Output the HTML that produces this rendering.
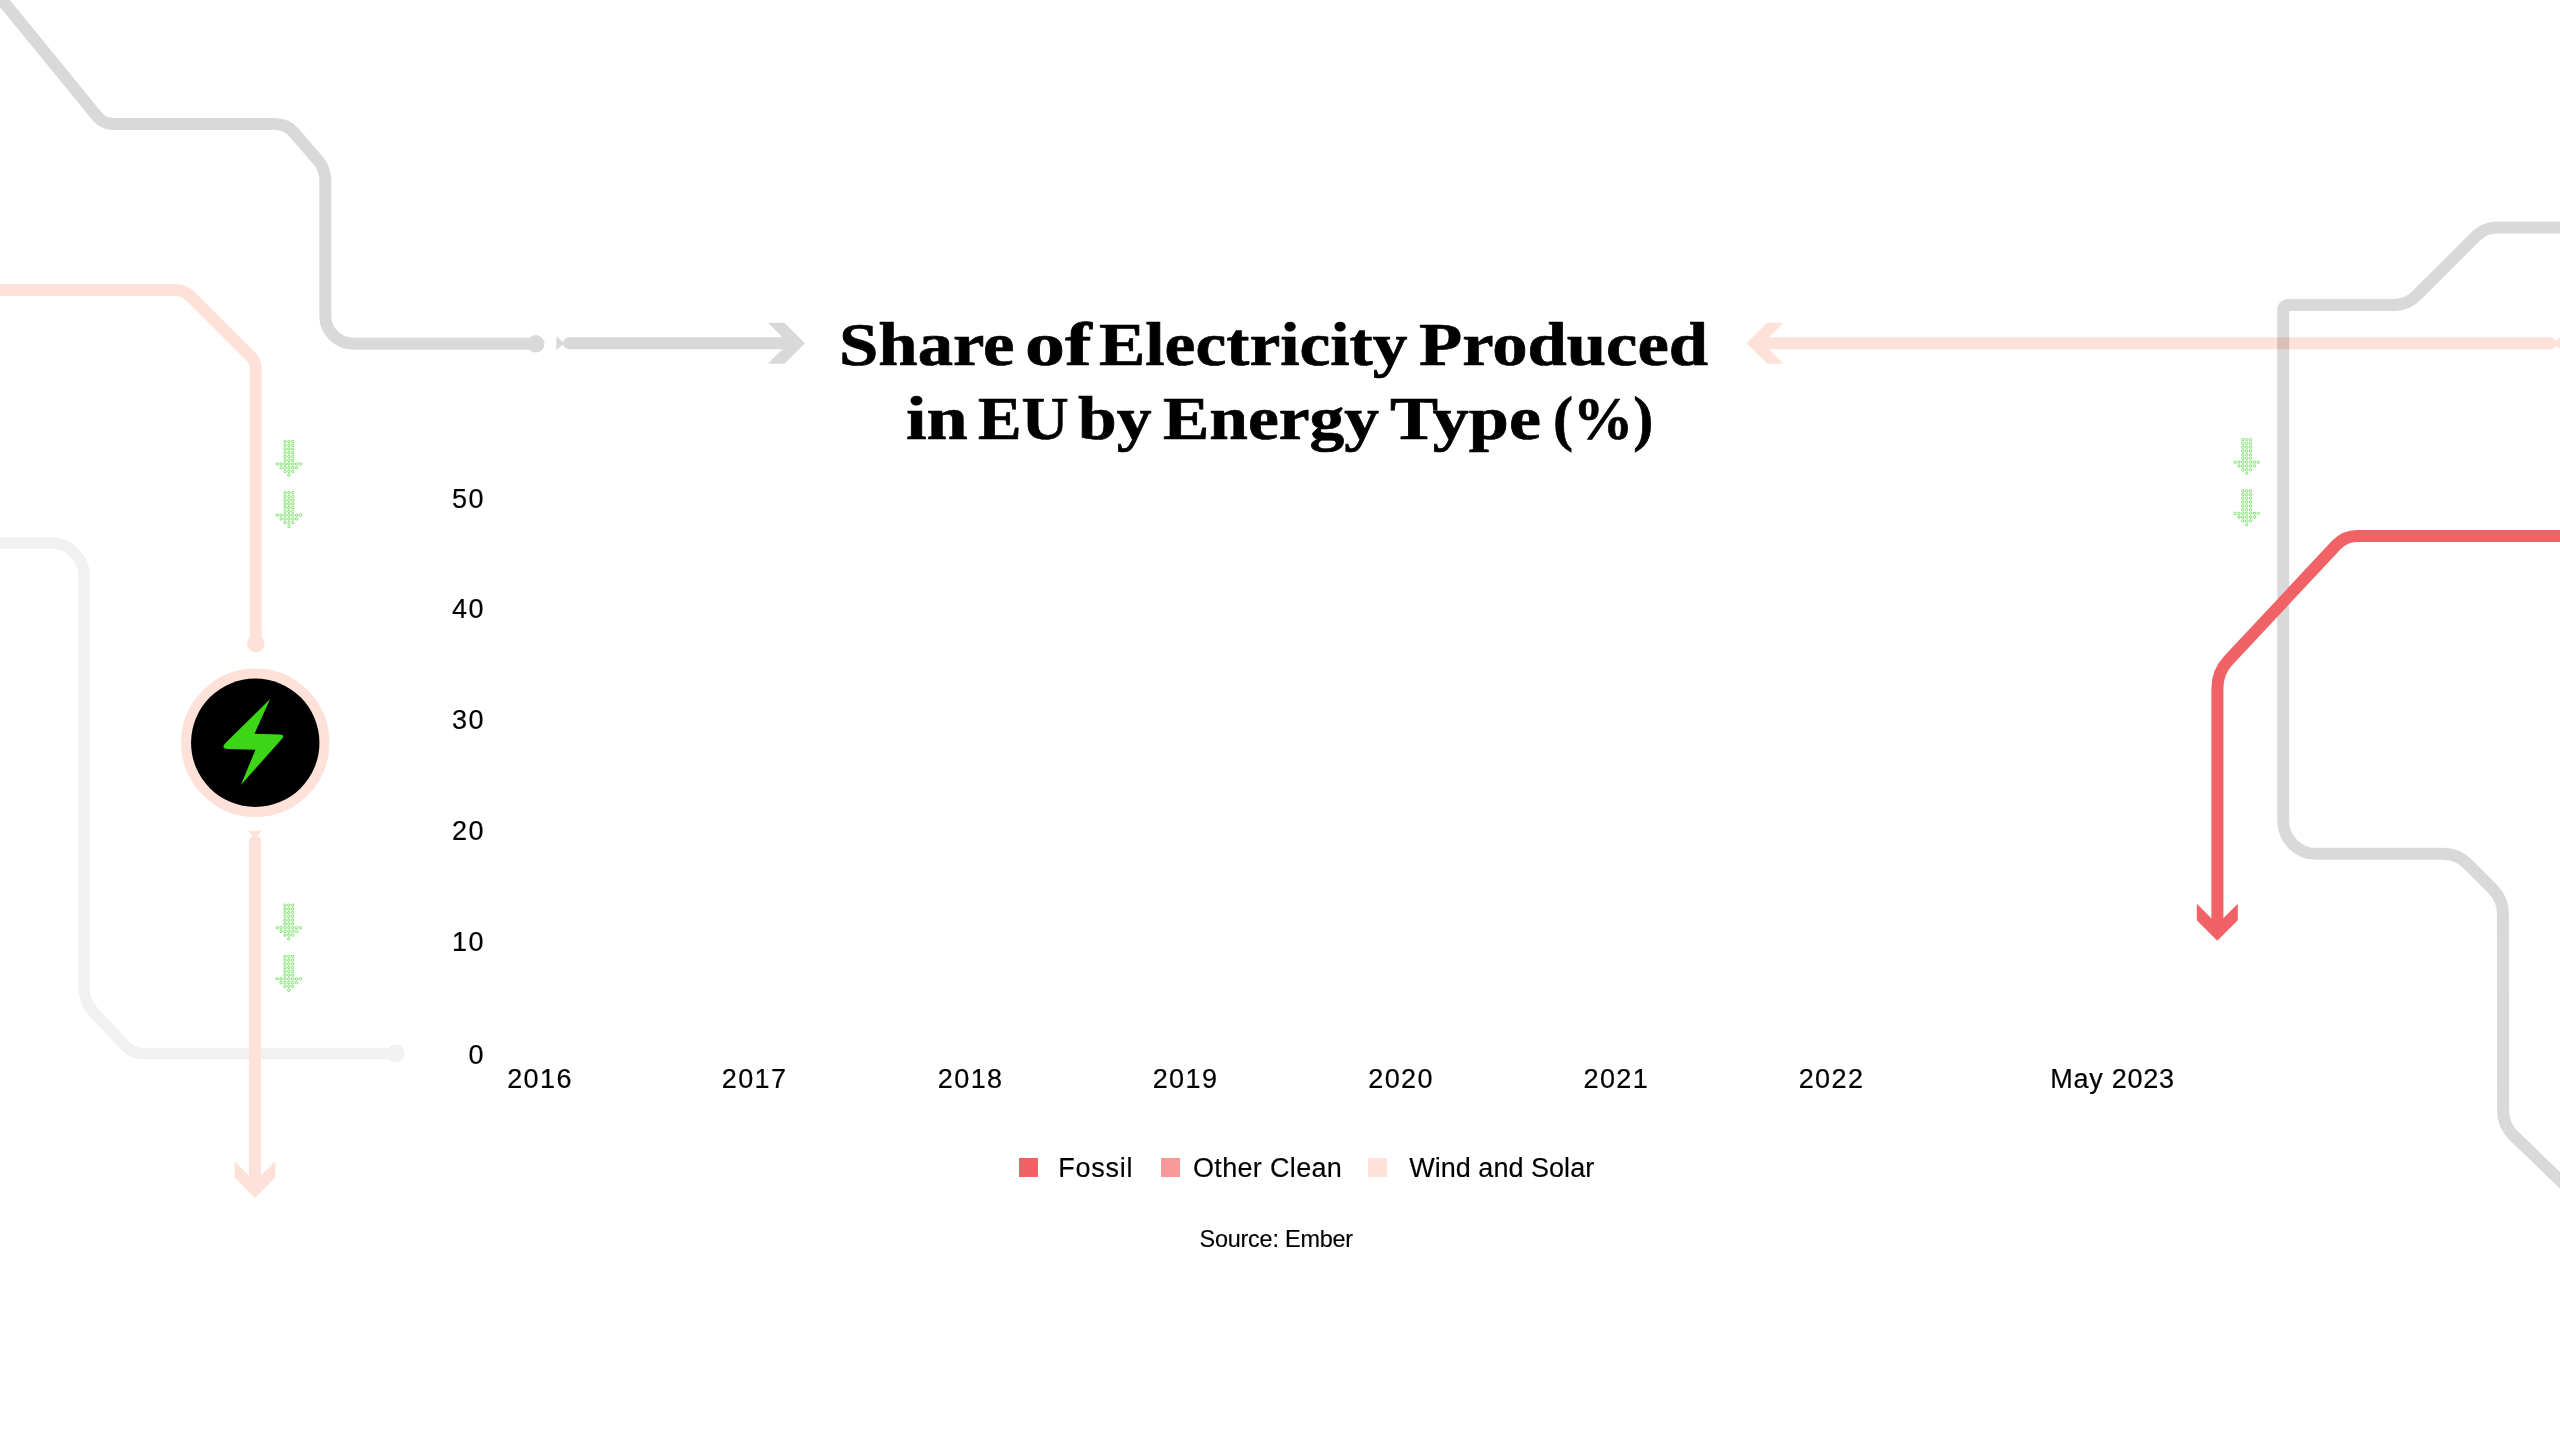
<!DOCTYPE html>
<html lang="en">
<head>
<meta charset="utf-8">
<title>Share of Electricity Produced in EU by Energy Type (%)</title>
<style>
html,body{margin:0;padding:0;background:#fff;}
body{width:2560px;height:1440px;position:relative;overflow:hidden;font-family:"Liberation Sans",sans-serif;color:#000;}
h1{margin:0;padding:0;font-size:inherit;font-weight:inherit;}
.t{position:absolute;white-space:nowrap;line-height:1;}
.title{font-family:"Liberation Serif",serif;font-weight:700;font-size:62px;transform-origin:0 0;-webkit-text-stroke:0.7px #000;}
.ax{font-size:27px;letter-spacing:1.4px;-webkit-text-stroke:0.2px #000;}
.lg{font-size:27px;-webkit-text-stroke:0.15px #000;}
.src{font-size:23.4px;-webkit-text-stroke:0.15px #000;}
.sq{position:absolute;width:19px;height:19px;top:1158.2px;}
</style>
</head>
<body>
<svg width="2560" height="1440" viewBox="0 0 2560 1440" style="position:absolute;left:0;top:0">
<g fill="none" stroke="#f1f1f1" stroke-width="11.5">
<path d="M-20,543 L51.1,543 A33,33 0 0 1 84.1,576 L84.1,987.68 A36,36 0 0 0 93.82,1012.28 L125.78,1046.43 A22,22 0 0 0 141.84,1053.4 L395.5,1053.4"/>
<circle cx="395.5" cy="1053.4" r="9" fill="#f1f1f1" stroke="none"/>
</g>
<g fill="none" stroke="#fee2da" stroke-width="12">
<path d="M-20,290 L175.09,290 A22,22 0 0 1 190.64,296.44 L250.72,356.52 A17,17 0 0 1 255.7,368.54 L255.7,644"/>
<circle cx="255.8" cy="643.6" r="8.8" fill="#fee2da" stroke="none"/>
<circle cx="255.25" cy="742.75" r="69" stroke-width="10.5"/>
<polygon points="248,830.8 262,830.8 255,838.5" fill="#fee2da" stroke="none"/>
<path d="M255,841.3 L255,1186" stroke-linecap="round"/>
<polygon points="234.5,1160.9 234.5,1177.5 255,1198 275.5,1177.5 275.5,1160.9 255,1181.4" fill="#fee2da" stroke="none"/>
<polygon points="2561,336.4 2561,350 2553.5,343.2" fill="#fee2da" stroke="none"/>
<path d="M2550.5,343.2 L1764,343.2" stroke-linecap="round"/>
<polygon points="1783.6,322.8 1767,322.8 1746.5,343.3 1767,363.8 1783.6,363.8 1763.1,343.3" fill="#fee2da" stroke="none"/>
</g>
<g fill="none" stroke="#d9d9d9" stroke-width="12" style="mix-blend-mode:multiply">
<path d="M-14.2,-20 L97.2,116.54 A20,20 0 0 0 112.69,123.9 L274.75,123.9 A26,26 0 0 1 294.48,132.97 L318.07,160.47 A30,30 0 0 1 325.3,180 L325.3,315.8 A28,28 0 0 0 353.3,343.8 L535.8,343.8"/>
<circle cx="535.8" cy="343.8" r="8.7" fill="#d9d9d9" stroke="none"/>
<polygon points="556.3,336.3 556.3,350.3 564.5,343.3" fill="#d9d9d9" stroke="none"/>
<path d="M569,343.3 L789,343.3" stroke-linecap="round"/>
<polygon points="767.9,322.8 784.5,322.8 805,343.3 784.5,363.8 767.9,363.8 788.4,343.3" fill="#d9d9d9" stroke="none"/>
<path d="M2580,227.5 L2497.03,227.5 A30,30 0 0 0 2475.81,236.29 L2415.99,296.11 A30,30 0 0 1 2394.77,304.9 L2288.2,304.9 A5,5 0 0 0 2283.2,309.9 L2283.2,820.85 A33,33 0 0 0 2316.2,853.85 L2443.01,853.85 A35,35 0 0 1 2467.75,864.09 L2492.65,888.96 A35,35 0 0 1 2502.91,913.69 L2503.09,1110.48 A35,35 0 0 0 2513.75,1135.6 L2580,1199.7"/>
</g>
<g fill="none" stroke="#f06265" stroke-width="12">
<path d="M2580,535.9 L2357.39,535.9 A29,29 0 0 0 2336.2,545.1 L2228.18,660.67 A40,40 0 0 0 2217.4,687.98 L2217.4,926"/>
<polygon points="2196.8,903.7 2196.8,920.3 2217.3,940.8 2237.8,920.3 2237.8,903.7 2217.3,924.2" fill="#f06265" stroke="none"/>
</g>
<circle cx="255.25" cy="742.75" r="64.2" fill="#000"/>
<path d="M270.1,699 L226,742.5 Q219.9,748.6 227.9,748.9 L255.5,749.7 L240.9,784.9 L281.8,739 Q285.6,734.7 279.8,734.5 L254.5,733.7 Z" fill="#3dd616"/>
<g fill="none" stroke="#62dd4e" stroke-width="0.8">
<circle cx="285.03" cy="441.5" r="1.25"/><circle cx="288.9" cy="441.5" r="1.25"/><circle cx="292.77" cy="441.5" r="1.25"/><circle cx="285.03" cy="445.25" r="1.25"/><circle cx="288.9" cy="445.25" r="1.25"/><circle cx="292.77" cy="445.25" r="1.25"/><circle cx="285.03" cy="448.99" r="1.25"/><circle cx="288.9" cy="448.99" r="1.25"/><circle cx="292.77" cy="448.99" r="1.25"/><circle cx="285.03" cy="452.74" r="1.25"/><circle cx="288.9" cy="452.74" r="1.25"/><circle cx="292.77" cy="452.74" r="1.25"/><circle cx="285.03" cy="456.48" r="1.25"/><circle cx="288.9" cy="456.48" r="1.25"/><circle cx="292.77" cy="456.48" r="1.25"/><circle cx="285.03" cy="460.23" r="1.25"/><circle cx="288.9" cy="460.23" r="1.25"/><circle cx="292.77" cy="460.23" r="1.25"/><circle cx="277.29" cy="463.97" r="1.25"/><circle cx="281.16" cy="463.97" r="1.25"/><circle cx="285.03" cy="463.97" r="1.25"/><circle cx="288.9" cy="463.97" r="1.25"/><circle cx="292.77" cy="463.97" r="1.25"/><circle cx="296.64" cy="463.97" r="1.25"/><circle cx="300.51" cy="463.97" r="1.25"/><circle cx="281.16" cy="467.71" r="1.25"/><circle cx="285.03" cy="467.71" r="1.25"/><circle cx="288.9" cy="467.71" r="1.25"/><circle cx="292.77" cy="467.71" r="1.25"/><circle cx="296.64" cy="467.71" r="1.25"/><circle cx="285.03" cy="471.46" r="1.25"/><circle cx="288.9" cy="471.46" r="1.25"/><circle cx="292.77" cy="471.46" r="1.25"/><circle cx="288.9" cy="475.2" r="1.25"/>
<circle cx="285.03" cy="492.7" r="1.25"/><circle cx="288.9" cy="492.7" r="1.25"/><circle cx="292.77" cy="492.7" r="1.25"/><circle cx="285.03" cy="496.44" r="1.25"/><circle cx="288.9" cy="496.44" r="1.25"/><circle cx="292.77" cy="496.44" r="1.25"/><circle cx="285.03" cy="500.19" r="1.25"/><circle cx="288.9" cy="500.19" r="1.25"/><circle cx="292.77" cy="500.19" r="1.25"/><circle cx="285.03" cy="503.94" r="1.25"/><circle cx="288.9" cy="503.94" r="1.25"/><circle cx="292.77" cy="503.94" r="1.25"/><circle cx="285.03" cy="507.68" r="1.25"/><circle cx="288.9" cy="507.68" r="1.25"/><circle cx="292.77" cy="507.68" r="1.25"/><circle cx="285.03" cy="511.43" r="1.25"/><circle cx="288.9" cy="511.43" r="1.25"/><circle cx="292.77" cy="511.43" r="1.25"/><circle cx="277.29" cy="515.17" r="1.25"/><circle cx="281.16" cy="515.17" r="1.25"/><circle cx="285.03" cy="515.17" r="1.25"/><circle cx="288.9" cy="515.17" r="1.25"/><circle cx="292.77" cy="515.17" r="1.25"/><circle cx="296.64" cy="515.17" r="1.25"/><circle cx="300.51" cy="515.17" r="1.25"/><circle cx="281.16" cy="518.91" r="1.25"/><circle cx="285.03" cy="518.91" r="1.25"/><circle cx="288.9" cy="518.91" r="1.25"/><circle cx="292.77" cy="518.91" r="1.25"/><circle cx="296.64" cy="518.91" r="1.25"/><circle cx="285.03" cy="522.66" r="1.25"/><circle cx="288.9" cy="522.66" r="1.25"/><circle cx="292.77" cy="522.66" r="1.25"/><circle cx="288.9" cy="526.4" r="1.25"/>
<circle cx="284.93" cy="905.2" r="1.25"/><circle cx="288.8" cy="905.2" r="1.25"/><circle cx="292.67" cy="905.2" r="1.25"/><circle cx="284.93" cy="908.95" r="1.25"/><circle cx="288.8" cy="908.95" r="1.25"/><circle cx="292.67" cy="908.95" r="1.25"/><circle cx="284.93" cy="912.69" r="1.25"/><circle cx="288.8" cy="912.69" r="1.25"/><circle cx="292.67" cy="912.69" r="1.25"/><circle cx="284.93" cy="916.44" r="1.25"/><circle cx="288.8" cy="916.44" r="1.25"/><circle cx="292.67" cy="916.44" r="1.25"/><circle cx="284.93" cy="920.18" r="1.25"/><circle cx="288.8" cy="920.18" r="1.25"/><circle cx="292.67" cy="920.18" r="1.25"/><circle cx="284.93" cy="923.93" r="1.25"/><circle cx="288.8" cy="923.93" r="1.25"/><circle cx="292.67" cy="923.93" r="1.25"/><circle cx="277.19" cy="927.67" r="1.25"/><circle cx="281.06" cy="927.67" r="1.25"/><circle cx="284.93" cy="927.67" r="1.25"/><circle cx="288.8" cy="927.67" r="1.25"/><circle cx="292.67" cy="927.67" r="1.25"/><circle cx="296.54" cy="927.67" r="1.25"/><circle cx="300.41" cy="927.67" r="1.25"/><circle cx="281.06" cy="931.42" r="1.25"/><circle cx="284.93" cy="931.42" r="1.25"/><circle cx="288.8" cy="931.42" r="1.25"/><circle cx="292.67" cy="931.42" r="1.25"/><circle cx="296.54" cy="931.42" r="1.25"/><circle cx="284.93" cy="935.16" r="1.25"/><circle cx="288.8" cy="935.16" r="1.25"/><circle cx="292.67" cy="935.16" r="1.25"/><circle cx="288.8" cy="938.91" r="1.25"/>
<circle cx="284.93" cy="956.4" r="1.25"/><circle cx="288.8" cy="956.4" r="1.25"/><circle cx="292.67" cy="956.4" r="1.25"/><circle cx="284.93" cy="960.14" r="1.25"/><circle cx="288.8" cy="960.14" r="1.25"/><circle cx="292.67" cy="960.14" r="1.25"/><circle cx="284.93" cy="963.89" r="1.25"/><circle cx="288.8" cy="963.89" r="1.25"/><circle cx="292.67" cy="963.89" r="1.25"/><circle cx="284.93" cy="967.63" r="1.25"/><circle cx="288.8" cy="967.63" r="1.25"/><circle cx="292.67" cy="967.63" r="1.25"/><circle cx="284.93" cy="971.38" r="1.25"/><circle cx="288.8" cy="971.38" r="1.25"/><circle cx="292.67" cy="971.38" r="1.25"/><circle cx="284.93" cy="975.12" r="1.25"/><circle cx="288.8" cy="975.12" r="1.25"/><circle cx="292.67" cy="975.12" r="1.25"/><circle cx="277.19" cy="978.87" r="1.25"/><circle cx="281.06" cy="978.87" r="1.25"/><circle cx="284.93" cy="978.87" r="1.25"/><circle cx="288.8" cy="978.87" r="1.25"/><circle cx="292.67" cy="978.87" r="1.25"/><circle cx="296.54" cy="978.87" r="1.25"/><circle cx="300.41" cy="978.87" r="1.25"/><circle cx="281.06" cy="982.62" r="1.25"/><circle cx="284.93" cy="982.62" r="1.25"/><circle cx="288.8" cy="982.62" r="1.25"/><circle cx="292.67" cy="982.62" r="1.25"/><circle cx="296.54" cy="982.62" r="1.25"/><circle cx="284.93" cy="986.36" r="1.25"/><circle cx="288.8" cy="986.36" r="1.25"/><circle cx="292.67" cy="986.36" r="1.25"/><circle cx="288.8" cy="990.11" r="1.25"/>
<circle cx="2242.83" cy="439.7" r="1.25"/><circle cx="2246.7" cy="439.7" r="1.25"/><circle cx="2250.57" cy="439.7" r="1.25"/><circle cx="2242.83" cy="443.44" r="1.25"/><circle cx="2246.7" cy="443.44" r="1.25"/><circle cx="2250.57" cy="443.44" r="1.25"/><circle cx="2242.83" cy="447.19" r="1.25"/><circle cx="2246.7" cy="447.19" r="1.25"/><circle cx="2250.57" cy="447.19" r="1.25"/><circle cx="2242.83" cy="450.94" r="1.25"/><circle cx="2246.7" cy="450.94" r="1.25"/><circle cx="2250.57" cy="450.94" r="1.25"/><circle cx="2242.83" cy="454.68" r="1.25"/><circle cx="2246.7" cy="454.68" r="1.25"/><circle cx="2250.57" cy="454.68" r="1.25"/><circle cx="2242.83" cy="458.43" r="1.25"/><circle cx="2246.7" cy="458.43" r="1.25"/><circle cx="2250.57" cy="458.43" r="1.25"/><circle cx="2235.09" cy="462.17" r="1.25"/><circle cx="2238.96" cy="462.17" r="1.25"/><circle cx="2242.83" cy="462.17" r="1.25"/><circle cx="2246.7" cy="462.17" r="1.25"/><circle cx="2250.57" cy="462.17" r="1.25"/><circle cx="2254.44" cy="462.17" r="1.25"/><circle cx="2258.31" cy="462.17" r="1.25"/><circle cx="2238.96" cy="465.91" r="1.25"/><circle cx="2242.83" cy="465.91" r="1.25"/><circle cx="2246.7" cy="465.91" r="1.25"/><circle cx="2250.57" cy="465.91" r="1.25"/><circle cx="2254.44" cy="465.91" r="1.25"/><circle cx="2242.83" cy="469.66" r="1.25"/><circle cx="2246.7" cy="469.66" r="1.25"/><circle cx="2250.57" cy="469.66" r="1.25"/><circle cx="2246.7" cy="473.4" r="1.25"/>
<circle cx="2242.83" cy="490.9" r="1.25"/><circle cx="2246.7" cy="490.9" r="1.25"/><circle cx="2250.57" cy="490.9" r="1.25"/><circle cx="2242.83" cy="494.64" r="1.25"/><circle cx="2246.7" cy="494.64" r="1.25"/><circle cx="2250.57" cy="494.64" r="1.25"/><circle cx="2242.83" cy="498.39" r="1.25"/><circle cx="2246.7" cy="498.39" r="1.25"/><circle cx="2250.57" cy="498.39" r="1.25"/><circle cx="2242.83" cy="502.13" r="1.25"/><circle cx="2246.7" cy="502.13" r="1.25"/><circle cx="2250.57" cy="502.13" r="1.25"/><circle cx="2242.83" cy="505.88" r="1.25"/><circle cx="2246.7" cy="505.88" r="1.25"/><circle cx="2250.57" cy="505.88" r="1.25"/><circle cx="2242.83" cy="509.62" r="1.25"/><circle cx="2246.7" cy="509.62" r="1.25"/><circle cx="2250.57" cy="509.62" r="1.25"/><circle cx="2235.09" cy="513.37" r="1.25"/><circle cx="2238.96" cy="513.37" r="1.25"/><circle cx="2242.83" cy="513.37" r="1.25"/><circle cx="2246.7" cy="513.37" r="1.25"/><circle cx="2250.57" cy="513.37" r="1.25"/><circle cx="2254.44" cy="513.37" r="1.25"/><circle cx="2258.31" cy="513.37" r="1.25"/><circle cx="2238.96" cy="517.12" r="1.25"/><circle cx="2242.83" cy="517.12" r="1.25"/><circle cx="2246.7" cy="517.12" r="1.25"/><circle cx="2250.57" cy="517.12" r="1.25"/><circle cx="2254.44" cy="517.12" r="1.25"/><circle cx="2242.83" cy="520.86" r="1.25"/><circle cx="2246.7" cy="520.86" r="1.25"/><circle cx="2250.57" cy="520.86" r="1.25"/><circle cx="2246.7" cy="524.61" r="1.25"/>
</g>
</svg>
<h1 class="tl">
<span class="t title" style="left:839.48px;top:313.1px;transform:scaleX(1.1403);">Share</span> 
<span class="t title" style="left:1024.92px;top:313.1px;transform:scaleX(1.2880);">of</span> 
<span class="t title" style="left:1098.88px;top:313.1px;transform:scaleX(1.1201);">Electricity</span> 
<span class="t title" style="left:1419.46px;top:313.1px;transform:scaleX(1.1393);">Produced</span> 
<span class="t title" style="left:905.61px;top:387.2px;transform:scaleX(1.1940);">in</span> 
<span class="t title" style="left:978.35px;top:387.2px;transform:scaleX(1.0536);">EU</span> 
<span class="t title" style="left:1077.88px;top:387.2px;transform:scaleX(1.1234);">by</span> 
<span class="t title" style="left:1162.68px;top:387.2px;transform:scaleX(1.1199);">Energy</span> 
<span class="t title" style="left:1390.04px;top:387.2px;transform:scaleX(1.1630);">Type</span> 
<span class="t title" style="left:1552.99px;top:387.2px;transform:scaleX(0.9704);">(%)</span> 
</h1>
<div class="t ax yl" id="y0" style="right:2075.1px;top:485.8px;">50</div>
<div class="t ax yl" id="y1" style="right:2075.1px;top:596px;">40</div>
<div class="t ax yl" id="y2" style="right:2075.1px;top:707.4px;">30</div>
<div class="t ax yl" id="y3" style="right:2075.1px;top:818px;">20</div>
<div class="t ax yl" id="y4" style="right:2075.1px;top:928.8px;">10</div>
<div class="t ax yl" id="y5" style="right:2075.1px;top:1042.2px;">0</div>
<div class="t ax xl" id="x0" style="left:540px;top:1066.3px;transform:translateX(-50%);">2016</div>
<div class="t ax xl" id="x1" style="left:754.6px;top:1066.3px;transform:translateX(-50%);">2017</div>
<div class="t ax xl" id="x2" style="left:970.7px;top:1066.3px;transform:translateX(-50%);">2018</div>
<div class="t ax xl" id="x3" style="left:1185.5px;top:1066.3px;transform:translateX(-50%);">2019</div>
<div class="t ax xl" id="x4" style="left:1401.1px;top:1066.3px;transform:translateX(-50%);">2020</div>
<div class="t ax xl" id="x5" style="left:1616.3px;top:1066.3px;transform:translateX(-50%);">2021</div>
<div class="t ax xl" id="x6" style="left:1831.5px;top:1066.3px;transform:translateX(-50%);">2022</div>
<div class="t ax xl" id="x7" style="left:2112.5px;top:1066.3px;transform:translateX(-50%);letter-spacing:0.75px;">May 2023</div>
<div class="sq" style="left:1019.2px;background:#f06265"></div>
<div class="t lg" id="l0" style="left:1058.3px;top:1155px;letter-spacing:0.75px;">Fossil</div>
<div class="sq" style="left:1161.3px;background:#f8999a"></div>
<div class="t lg" id="l1" style="left:1193px;top:1155px;letter-spacing:0.33px;">Other Clean</div>
<div class="sq" style="left:1367.8px;background:#fee2da"></div>
<div class="t lg" id="l2" style="left:1409.2px;top:1155px;letter-spacing:0.03px;">Wind and Solar</div>
<div class="t src" id="src" style="left:1199.5px;top:1227.7px;letter-spacing:-0.2px;">Source: Ember</div>
</body>
</html>
